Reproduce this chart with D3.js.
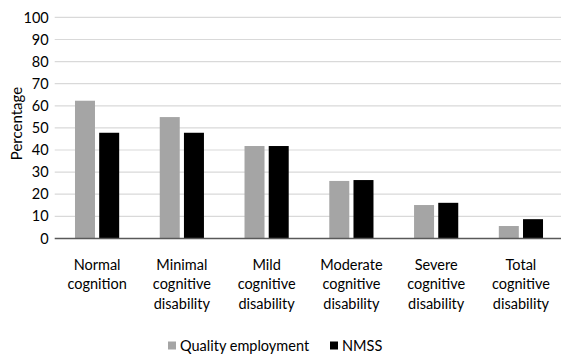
<!DOCTYPE html>
<html>
<head>
<meta charset="utf-8">
<script src="https://cdn.jsdelivr.net/npm/d3@7"></script>
<style>
  html, body { margin: 0; padding: 0; background: #fff; overflow: hidden; }
  svg { display: block; }
  svg text { font-family: Lato, "Open Sans", sans-serif; fill: #000; }
</style>
</head>
<body>
<svg id="chart" width="561" height="355"></svg>
<script>
// Share of participants by cognitive status
const categories = [
  ["Normal", "cognition"],
  ["Minimal", "cognitive", "disability"],
  ["Mild", "cognitive", "disability"],
  ["Moderate", "cognitive", "disability"],
  ["Severe", "cognitive", "disability"],
  ["Total", "cognitive", "disability"]
];
const seriesNames = ["Quality employment", "NMSS"];
const qualityEmployment = [62.3, 54.9, 41.8, 26.0, 15.1, 5.6];
const nmss = [47.8, 47.8, 41.8, 26.4, 16.1, 8.7];
const yTicks = [0, 10, 20, 30, 40, 50, 60, 70, 80, 90, 100];
const colors = ["#a5a5a5", "#000000"];

const svg = d3.select("#chart");
const W = 561, H = 355;
const plot = { left: 54.7, right: 563.3, top: 17.4, bottom: 238.4 };

const x = d3.scaleBand().domain(d3.range(categories.length)).range([plot.left, plot.right]);
const y = d3.scaleLinear().domain([0, 100]).range([plot.bottom, plot.top]);
const barW = 20, barGap = 4.2;
const groupW = barW * 2 + barGap;
const xs = d3.scaleBand().domain([0, 1]).range([0, groupW]).paddingInner(barGap / (barW + barGap));

// Gridlines
svg.append("g").selectAll("line").data(yTicks.filter(d => d > 0)).join("line")
  .attr("x1", plot.left).attr("x2", plot.right)
  .attr("y1", d => y(d)).attr("y2", d => y(d))
  .attr("stroke", "#d9d9d9").attr("stroke-width", 1.2);

// Y axis labels
const ya = svg.append("g").attr("transform", `translate(${plot.left},0)`)
  .call(d3.axisLeft(y).tickValues(yTicks).tickSize(0).tickPadding(6));
ya.select(".domain").remove();
ya.selectAll("text").attr("font-size", 14.5).attr("fill", "#000")
  .style("font-family", "Lato, 'Open Sans', sans-serif");

// Bars
[qualityEmployment, nmss].forEach((vals, si) => {
  svg.append("g").selectAll("rect").data(vals).join("rect")
    .attr("x", (d, i) => x(i) + (x.bandwidth() - groupW) / 2 + xs(si))
    .attr("width", xs.bandwidth())
    .attr("y", d => y(d))
    .attr("height", d => y(0) - y(d))
    .attr("fill", colors[si]);
});

// Baseline
svg.append("line").attr("x1", plot.left).attr("x2", plot.right)
  .attr("y1", y(0)).attr("y2", y(0))
  .attr("stroke", "#595959").attr("stroke-width", 1.5);

// Category labels
const xl = svg.append("g").selectAll("text").data(categories).join("text")
  .attr("text-anchor", "middle")
  .attr("font-size", 14.5)
  .attr("transform", (d, i) => `translate(${x(i) + x.bandwidth() / 2},269.5)`);
xl.selectAll("tspan").data(d => d).join("tspan")
  .attr("x", 0).attr("dy", (d, j) => j === 0 ? 0 : 19.5).text(d => d);

// Y axis title
svg.append("text")
  .attr("transform", "translate(22,123.5) rotate(-90)")
  .attr("text-anchor", "middle").attr("font-size", 15)
  .text("Percentage");

// Legend
const legend = svg.append("g").attr("transform", "translate(168,345.5)");
const lx = [0, 162];
seriesNames.forEach((name, i) => {
  const item = legend.append("g").attr("transform", `translate(${lx[i]},0)`);
  item.append("rect").attr("x", 0).attr("y", -4).attr("width", 8).attr("height", 8).attr("fill", colors[i]);
  item.append("text").attr("x", 12).attr("y", 5).attr("font-size", 14.5).text(name);
});
</script>
</body>
</html>
